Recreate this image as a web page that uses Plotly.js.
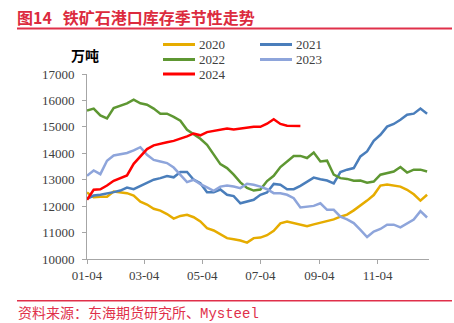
<!DOCTYPE html>
<html>
<head>
<meta charset="utf-8">
<script src="https://cdn.plot.ly/plotly-3.0.1.min.js"></script>
<style>html,body{margin:0;padding:0;background:#fff;}#chart{width:454px;height:323px;}</style>
</head>
<body>
<div id="chart"></div>
<script>
// Weekly observation dates (MM-DD), mapped onto one calendar year for the seasonal axis
const weeks = ["01-04","01-11","01-18","01-25","02-01","02-08","02-15","02-22","02-29","03-07","03-14","03-21","03-28",
  "04-04","04-11","04-18","04-25","05-02","05-09","05-16","05-23","05-30","06-06","06-13","06-20","06-27",
  "07-04","07-11","07-18","07-25","08-01","08-08","08-15","08-22","08-29","09-05","09-12","09-19","09-26",
  "10-03","10-10","10-17","10-24","10-31","11-07","11-14","11-21","11-28","12-05","12-12","12-19","12-26"];
const tickLabels = ["01-04","03-04","05-04","07-04","09-04","11-04"];
const seriesNames = ["2020","2021","2022","2023","2024"];

const v2020 = [12520,12340,12360,12360,12550,12520,12490,12400,12170,12060,11900,11830,11700,11530,11630,11670,11580,11420,11170,11080,10950,10790,10750,10700,10620,10790,
  10810,10900,11070,11350,11420,11360,11320,11240,11310,11380,11440,11500,11600,11680,11840,12010,12210,12420,12780,12820,12780,12740,12620,12450,12210,12430];
const v2021 = [12270,12400,12430,12470,12530,12590,12700,12640,12770,12870,13000,13060,13140,13090,13290,13290,13000,12870,12530,12530,12630,12430,12380,12110,12170,12240,
  12430,12520,12840,12810,12640,12640,12770,12930,13080,13020,12970,12860,13290,13380,13440,13880,14070,14470,14700,15010,15110,15270,15460,15500,15690,15500];
const v2022 = [15620,15690,15430,15320,15710,15800,15890,16030,15890,15840,15690,15500,15500,15380,15230,14890,14730,14550,14320,13940,13590,13440,13190,12900,12690,12590,
  12630,12950,13150,13480,13700,13900,13900,13820,14030,13690,13720,13190,13060,13030,12960,12970,12890,12930,13190,13250,13310,13480,13270,13380,13380,13310];
const v2023 = [13150,13350,13210,13720,13920,13970,14010,14110,14230,13940,13750,13690,13630,13460,13190,12910,13000,12830,12710,12580,12740,12780,12740,12680,12845,12810,
  12740,12640,12490,12490,12430,12300,11950,11990,12010,12110,11860,11860,11600,11500,11360,11100,10830,11040,11135,11300,11300,11200,11360,11490,11810,11570];
const v2024 = [12240,12620,12640,12780,12960,13060,13160,13600,13880,14160,14300,14370,14420,14470,14550,14640,14750,14680,14800,14850,14880,14940,14900,14930,14970,15000,
  15000,15120,15290,15110,15040,15030,15030];

const seriesValues = [v2020, v2021, v2022, v2023, v2024];
const seriesColors = ["#E6AC00", "#4A7EBB", "#5E9732", "#8EA5DB", "#FF0000"];

const toDate = md => "2024-" + md;
const xDates = weeks.map(toDate);

const traces = seriesNames.map((name, i) => ({
  type: "scatter", mode: "lines", name: name,
  x: xDates.slice(0, seriesValues[i].length),
  y: seriesValues[i],
  line: {color: seriesColors[i], width: 2.5},
  showlegend: false, hoverinfo: "skip"
}));

// plot area geometry (px)
const L = 87, R = 25, T = 74, B = 64, W = 454, H = 323;
const pw = W - L - R, ph = H - T - B;
const px = x => (x - L) / pw;
const py = y => (H - B - y) / ph;

const shapes = [];
const annotations = [];
// custom legend: 2 columns
const legendPos = [[163, 44.5], [260, 44.5], [163, 59.5], [260, 59.5], [163, 74]];
seriesNames.forEach((name, i) => {
  const [lx, ly] = legendPos[i];
  shapes.push({type: "line", xref: "paper", yref: "paper", x0: px(lx), x1: px(lx + 32), y0: py(ly), y1: py(ly),
    line: {color: seriesColors[i], width: 3}});
  annotations.push({xref: "paper", yref: "paper", x: px(lx + 34), y: py(ly), xanchor: "left", yanchor: "middle",
    text: name, showarrow: false, font: {family: "Liberation Serif, Times New Roman, serif", size: 13, color: "#404040"}});
});
// red rule lines
shapes.push({type: "line", xref: "paper", yref: "paper", x0: px(17), x1: px(452), y0: py(28.5), y1: py(28.5),
  line: {color: "#E0304A", width: 2}});
shapes.push({type: "line", xref: "paper", yref: "paper", x0: px(17), x1: px(452), y0: py(300.7), y1: py(300.7),
  line: {color: "#E0304A", width: 1.5}});
// unit label
annotations.push({xref: "paper", yref: "paper", x: px(85), y: py(55), xanchor: "center", yanchor: "middle",
  text: "<b>万吨</b>", showarrow: false, font: {family: "Noto Sans CJK SC", size: 14, color: "#000"}});
// source
annotations.push({xref: "paper", yref: "paper", x: px(16), y: py(312), xanchor: "left", yanchor: "middle",
  text: "资料来源：东海期货研究所、<span style=\"font-family:Liberation Mono\">Mysteel</span>", showarrow: false,
  font: {family: "Noto Sans CJK SC", size: 14, color: "#E0304A"}});

const layout = {
  width: W, height: H,
  margin: {l: L, r: R, t: T, b: B, pad: 0},
  paper_bgcolor: "#fff", plot_bgcolor: "#fff",
  showlegend: false,
  title: {text: "<b>图14\u00A0\u00A0\u00A0铁矿石港口库存季节性走势</b>", x: 17 / W, xanchor: "left", xref: "container",
    y: 1 - 18 / H, yanchor: "middle", yref: "container",
    font: {family: "Noto Sans CJK SC", size: 16, color: "#DC2B3E"}},
  xaxis: {
    type: "date", range: ["2024-01-04", "2024-12-28"],
    tickmode: "array", tickvals: tickLabels.map(toDate), ticktext: tickLabels,
    showline: true, linecolor: "#A6A6A6", linewidth: 1,
    ticks: "outside", ticklen: 4, tickcolor: "#A6A6A6",
    showgrid: false, zeroline: false, fixedrange: true,
    tickfont: {family: "Liberation Serif, Times New Roman, serif", size: 13, color: "#404040"}
  },
  yaxis: {
    range: [10000, 17000], dtick: 1000, tick0: 10000, tickformat: "d",
    showline: true, linecolor: "#A6A6A6", linewidth: 1,
    ticks: "outside", ticklen: 4, tickcolor: "#A6A6A6",
    showgrid: false, zeroline: false, fixedrange: true, ticklabelstandoff: 5,
    tickfont: {family: "Liberation Serif, Times New Roman, serif", size: 13, color: "#404040"}
  },
  shapes: shapes,
  annotations: annotations
};

Plotly.newPlot("chart", traces, layout, {staticPlot: true, displayModeBar: false});
</script>
</body>
</html>
